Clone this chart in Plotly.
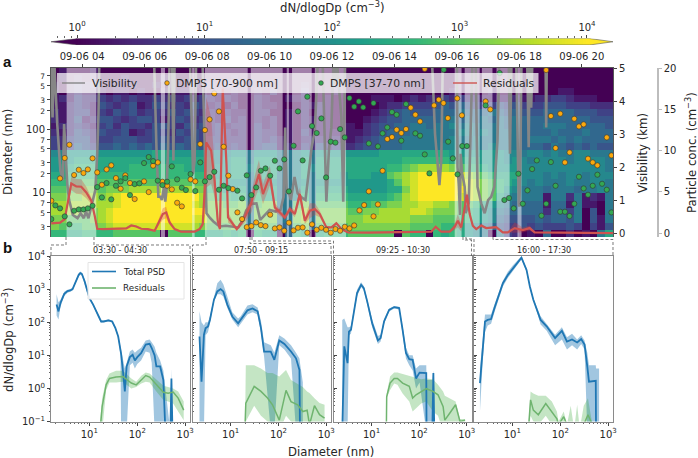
import numpy as np
import plotly.graph_objects as go

W, H = 698, 458

# diameter bin edges (nm) and one hex digit per 15 min cell, top row = largest size
size_edges = [929, 726, 568, 443, 346, 270, 210, 164, 128, 100, 78.1, 61.0, 47.5,
              36.6, 28.1, 21.6, 16.6, 12.8, 9.82, 7.55, 5.81, 4.46, 3.43, 2.64, 2.03]
psd_rows = [
    "010001 00000000000000 000000000000000000 0000000000 000000000000 000000000000",
    "010101 00010000100000 000100000000000000 0000000000 000000000000 000000000000",
    "101212 00101001010010 101000010000100000 0000000000 000000000000 000000000000",
    "101211 10110100101101 010100102000200010 0000000000 000100001000 000001100000",
    "121322 32323223232323 212100210011200100 0001110121 213232211112 112233211100",
    "112321 43234124323243 120200211000212100 0000122333 345454333434 333444333222",
    "212331 32434233243432 212110220010202100 0001234544 455565556545 444555544433",
    "212412 44323443134323 213120212010211100 0012344555 556656565656 555555555444",
    "122321 34243324432434 231220312010211101 1023445566 566767666656 555666555554",
    "212432 43341234324343 232120322010311111 1123455566 666677676666 555565556555",
    "323442 33444334433443 332220323110222121 1234555666 666766766666 566656565555",
    "323543 44545454545454 342320344120324232 2344555666 667776767666 555465454544",
    "778888 88888889988888 777886888667868888 8888999999 999888888877 677676677666",
    "888999 99999999999999 878996999667969999 9999999aaa aaa999988878 767777677776",
    "899aaa 9999aaaaaaa999 888997999667979999 99999aabcd dddcbaa98888 777777777776",
    "99aaaa aaaaaaaaaaaaaa 988996999667969998 99988bcdef ffffedcba999 777676776777",
    "aaaabb bbbbbbbbbbbbbb 998886888667868888 888889bdef ffffeedcba98 767666766776",
    "bbbbcc bcccddddddddcc a98896999667969999 8888899cef fffffedcba87 666566656676",
    "ccccdd cdeffffffffffd baa9a6a99667a6aaaa 99999abdef ffffeedcb976 666166261216",
    "dddddd ddefffffffffed ccbbc6bcc66bc6bbbb aaabbccdde eddcbba98765 555155161106",
    "ddddcc deffffffffffff ccccc6ccc66cd6cccc bbccddddee dcccba987655 555255360406",
    "ccbbbc deffffffffffee ccccc6ccc66cd6cccc ccddddddcc cbbbaa987544 445455460416",
    "cbaabb cdeeeeeeeeeedc bbbcb5bbb55bc5bbbb ccccccccbb bbaa98765433 434333430314",
    "aa99aa aabbbbbb0bbbaa 99a9a0a9905a909aaa bbbbbb0baa 0a9a98760632 010500201069",
]

# low visibility periods (hours of the day)
fog_start = [3.5, 6.52, 7.52, 7.93, 9.4, 10.55, 10.72, 11.45, 15.93, 16.25, 16.8, 17.27, 17.94]
fog_end = [4.45, 6.65, 7.6, 9.3, 10.42, 10.62, 11.35, 12.45, 16.15, 16.73, 17.14, 17.69, 18.07]

vis_time = [3.0, 3.05, 3.1, 3.2, 3.3, 3.38, 3.42, 3.48, 3.52, 3.58, 3.7, 3.85, 3.95, 4.05, 4.12, 4.2, 4.3,
            4.42, 4.48, 4.52, 4.55, 6.3, 6.38, 6.44, 6.5, 6.55, 6.62, 6.66, 6.7, 6.75, 6.8, 6.88, 6.92, 6.96,
            7.45, 7.55, 7.6, 7.65, 7.85, 7.92, 7.98, 8.1, 8.2, 8.4, 8.6, 9.0, 9.15, 9.25, 9.42, 9.58, 9.7, 9.8,
            10.0, 10.2, 10.35, 10.45, 10.5, 10.55, 10.62, 10.68, 10.8, 10.9, 11.0, 11.15, 11.25, 11.35, 11.45,
            11.55, 11.7, 11.75, 11.82, 11.9, 11.98, 12.05, 12.1, 12.15, 12.3, 12.36, 12.42, 15.2, 15.3, 15.4,
            15.44, 15.5, 15.55, 16.0, 16.02, 16.06, 16.1, 16.12, 16.17, 16.25, 16.28, 16.38, 16.5, 16.6, 16.66,
            16.78, 16.89, 17.0, 17.1, 17.2, 17.3, 17.36, 17.66, 17.7, 17.75, 17.9, 17.95, 17.98, 18.0, 18.03,
            18.07, 18.25, 18.3, 18.33, 18.38, 18.42, 18.84, 18.86, 18.88, 21]
vis_km = [5.3, 3.5, 5.3, 3.3, 1.9, 1.6, 3.3, 2.0, 1.5, 1.0, 0.55, 0.45, 0.6, 0.45, 0.65, 0.45, 0.8,
          1.3, 2.4, 3.6, 5.3, 5.3, 2.5, 1.1, 1.1, 1.0, 1.4, 0.95, 1.3, 2.5, 5.3, 5.3, 2.2, 5.3,
          5.3, 1.8, 2.2, 5.3, 5.3, 3, 0.6, 0.45, 0.35, 0.2, 0.22, 0.17, 0.4, 0.68, 0.88, 0.9, 0.4, 0.5,
          0.7, 0.65, 0.7, 1.1, 3.2, 1.2, 1.25, 1.0, 1.7, 1.2, 1.1, 1.0, 1.9, 2.6, 3.1,
          5.3, 5.2, 3, 0.95, 2.5, 3.2, 5.3, 4.5, 5.3, 3.5, 0.95, 5.3, 5.3, 3, 1.9,
          1.45, 2.2, 5.3, 5.3, 2, 1.5, 0.55, 2.4, 1.8, 1.4, 0.6, 0.9, 5.3, 5.3, 1.4,
          0.9, 0.6, 1, 1.1, 1.4, 2.8, 5.3, 5.3, 2.4, 5.3, 5.3, 1.9, 0.9, 0.8, 2,
          5.3, 5.3, 2.6, 5.3, 3.8, 5.3, 5.3, 3.2, 5.3, 5.3]

big_time = [3.01, 3.29, 3.44, 3.59, 3.74, 3.89, 4.04, 4.18, 4.33, 4.48, 4.63, 4.78, 4.93, 5.08, 5.23, 5.38, 5.53,
            5.68, 5.98, 6.13, 6.27, 6.42, 6.57, 6.72, 6.87, 7.04, 7.19, 7.47, 7.62, 7.78, 7.93, 8.08, 8.23, 8.38,
            8.53, 8.68, 8.82, 8.97, 9.12, 9.27, 9.42, 9.57, 9.72, 9.87, 10.02, 10.17, 10.32, 10.47, 10.62, 10.77,
            10.91, 11.06, 11.21, 11.36, 11.51, 11.66, 11.81, 11.96, 12.11, 12.26, 12.41, 12.56, 12.71, 12.88, 13.03,
            13.18, 13.33, 13.47, 13.62, 13.77, 13.92, 14.07, 14.22, 14.37, 14.52, 14.67, 14.82, 14.97, 15.27, 15.42,
            15.57, 15.71, 16.01, 16.16, 16.92, 17.07, 18.86, 19.01, 19.16, 19.31, 19.46, 19.61, 19.76, 19.91, 20.06,
            20.2, 20.35, 20.5, 20.8, 20.95]
big_conc = [3.91, 6.62, 9.09, 10.7, 7.03, 7.67, 7.27, 7.71, 9.05, 7.35, 5.85, 7.71, 8.2, 6.66, 5.37, 6.99, 6.06,
            4.12, 6.26, 4.96, 8.16, 8.56, 6.22, 5.73, 5.29, 3.67, 3.23, 6.5, 6.26, 10.78, 12.48, 13.77, 16.92, 14.74,
            10.46, 6.95, 5.33, 2.5, 1.69, 0.72, 0.84, 1.29, 0.96, 0.84, 2.22, 0.56, 0.68, 0.28, 1.25, 0.32,
            0.64, 0.68, 0.04, 1.05, 0.4, 0.64, 0.4, 0.04, 0.48, 0.28, 0.76, 0.56, 0.92, 2.74, 3.39,
            5.05, 2.02, 3.47, 7.55, 11.39, 11.63, 12.52, 12.12, 12.6, 15.19, 14.34, 13.53, 19.9, 15.47, 16.16,
            15.75, 13.93, 16.32, 14.26, 15.95, 14.98, 19.75, 14.18, 10.3, 14.46, 8.56, 9.77, 13.85, 12.92, 13.17,
            9.01, 8.56, 8.2, 11.59, 9.41]

small_time = [3.01, 3.14, 3.29, 3.44, 3.59, 3.74, 3.89, 4.04, 4.18, 4.33, 4.48, 4.63, 4.78, 4.93, 5.08, 5.23, 5.38,
              5.53, 5.68, 5.83, 5.98, 6.13, 6.27, 6.42, 6.57, 6.72, 6.87, 7.04, 7.19, 7.32, 7.47, 7.62, 7.78, 7.93,
              8.08, 8.23, 8.38, 8.53, 8.68, 8.97, 9.12, 9.27, 9.42, 9.57, 9.72, 9.87, 10.02, 10.17, 10.32, 10.47,
              10.62, 10.77, 10.91, 11.06, 11.21, 11.36, 11.51, 11.66, 11.81, 11.96, 12.11, 12.26, 12.41, 12.56,
              12.71, 12.86, 13.0, 13.18, 13.33, 13.47, 13.62, 13.77, 13.92, 14.07, 14.22, 14.37, 14.67, 14.82, 14.97,
              15.12, 15.58, 15.72, 15.87, 16.02, 16.17, 16.32, 16.92, 17.37, 17.52, 17.67, 17.82, 17.97, 18.11, 18.26,
              18.41, 18.56, 18.71, 18.86, 19.01, 19.16, 19.31, 19.46, 19.61, 19.76, 19.91, 20.06, 20.2, 20.35, 20.5,
              20.65, 20.8, 20.95]
small_conc = [1.69, 3.35, 2.99, 2.02, 1.05, 2.7, 2.86, 2.86, 2.99, 3.31, 5.57, 4.32, 6.06, 4.08, 5.73, 6.26, 6.66,
              4.6, 5.93, 6.02, 8.48, 9.21, 8.72, 6.34, 5.81, 6.22, 8.08, 6.5, 5.49, 5.21, 7.15, 5.09, 8.56, 6.26,
              6.78, 7.43, 5.25, 5.73, 5.45, 5.13, 4.2, 6.99, 4.6, 5.53, 7.55, 7.83, 6.95, 8.76, 7.83, 8.92,
              5.05, 10.58, 14.74, 8.8, 16.52, 12.96, 12.12, 13.89, 6.74, 11.07, 10.96, 12.6, 11.59, 16.36,
              15.31, 15.95, 15.23, 10.86, 15.75, 10.5, 12.08, 12.8, 14.66, 14.34, 11.19, 15.63, 12.08, 11.79, 9.53,
              7.23, 19.79, 11.07, 9.05, 7.11, 10.54, 10.54, 15.47, 19.39, 4.0, 4.24, 2.99, 7.19, 3.55, 5.17,
              7.75, 8.8, 2.1, 3.55, 8.6, 5.73, 2.58, 2.58, 2.06, 3.55, 6.82, 5.41, 4.64, 5.73, 7.07,
              5.97, 5.25, 2.5]

resid_time = [3.01, 3.14, 3.29, 3.44, 3.54, 3.65, 3.81, 3.97, 4.13, 4.29, 4.4, 4.48, 4.66, 4.93, 5.2, 5.41, 5.57, 5.73,
              5.89, 6.1, 6.32, 6.48, 6.58, 6.69, 6.8, 6.96, 7.17, 7.6, 7.76, 7.86, 7.92, 7.97, 8.13, 8.24, 8.34, 8.41,
              8.5, 8.62, 8.67, 8.95, 9.15, 9.31, 9.42, 9.53, 9.66, 9.79, 10.01, 10.17, 10.33, 10.49, 10.65, 10.81,
              10.97, 11.13, 11.29, 11.45, 11.61, 11.82, 11.98, 12.14, 12.3, 12.51, 13.15, 14.97, 15.18, 15.32, 15.5,
              15.77, 15.93, 16.03, 16.14, 16.25, 16.32, 16.41, 16.51, 16.62, 16.78, 16.94, 17.26, 17.47, 17.63, 17.85,
              18.11, 18.33, 18.49, 21]
resid_conc = [1.17, 1.17, 1.25, 1.69, 3.91, 6.01, 5.65, 5.61, 4.92, 3.91, 2.1, 0.52, 0.48, 0.52, 0.48, 0.56, 0.92, 0.8,
              0.52, 0.48, 0.28, 1.49, 2.3, 2.5, 1.29, 0.48, 0.16, 0.16, 0.48, 1.09, 5.13, 10.98, 9.98, 6.34, 1.49, 0.48,
              17.5, 8.36, 1.89, 0.48, 1.49, 2.7, 3.71, 5.53, 7.15, 4.72, 6.95, 3.11, 2.5, 1.89, 2.9, 2.3,
              4.72, 1.49, 2.7, 2.9, 2.3, 0.68, 0.68, 1.17, 0.48, 0.08, 0.04, 0.08, 0.16, 0.76, 0.16,
              0.16, 0.76, 1.49, 0.68, 3.11, 4.64, 2.3, 0.88, 0.48, 0.92, 0.6, 0.72, 0.08, 0.08, 0.6,
              0.36, 0.6, 0.08, 0.0]
resid_err = [0.1, 0.1, 0.1, 0.2, 0.5, 0.8, 0.9, 0.9, 0.7, 0.4, 0.3, 0.1, 0.1, 0.1, 0.1, 0.1, 0.1, 0.1,
             0.1, 0.1, 0.1, 0.4, 0.7, 0.7, 0.3, 0.1, 0.1, 0.1, 0.1, 0.3, 3.0, 5.5, 4.0, 2.0, 0.6, 0.2,
             1.5, 1.5, 0.6, 0.1, 0.5, 0.9, 1.2, 1.4, 1.7, 1.2, 1.2, 0.5, 0.4, 0.3, 0.4, 0.4,
             0.8, 0.4, 0.9, 0.7, 0.4, 0.2, 0.1, 0.2, 0.1, 0.05, 0.05, 0.05, 0.05, 0.1, 0.05,
             0.05, 0.4, 0.8, 0.5, 0.6, 0.5, 0.4, 0.2, 0.1, 0.2, 0.1, 0.1, 0.05, 0.05, 0.7,
             0.3, 0.3, 0.05, 0.05]

# one size distribution per period
period_labels = ["03:30 - 04:30", "07:50 - 09:15", "09:25 - 10:30", "16:00 - 17:30"]

p1_d = [2.07, 2.27, 2.5, 3, 3.5, 4, 4.47, 5, 6, 6.47, 7, 8, 10, 12, 15, 17.6, 20, 25, 30, 35, 40, 44.7, 46, 50, 55, 60,
        70, 80, 89, 100, 120, 150, 181, 200, 230, 250, 300, 350, 386, 490, 516, 542]
p1_total = [340, 212, 380, 720, 870, 910, 1000, 1500, 2700, 3050, 2850, 1700, 540, 340, 167, 105, 105, 113, 105, 66, 37,
            16.6, 11, 3.6, 0.81, 4.6, 8.8, 10.4, 7, 8.8, 11.6, 21, 22.3, 16.6, 10, 4.6, 4.6, 1.8, 0.05, 0.05, 2, 0.05]
p1_lo = [160, 120, 300, 620, 780, 830, 900, 1350, 2400, 2700, 2550, 1500, 480, 310, 150, 98, 98, 105, 98, 60, 33,
         10, 0.05, 0.05, 0.05, 0.05, 5, 6, 4, 5.5, 7, 13, 12, 6, 0.05, 0.05, 0.05, 0.05, 0.05, 0.05, 0.05, 0.05]
p1_hi = [700, 400, 480, 830, 960, 1000, 1100, 1650, 3000, 3400, 3150, 1900, 600, 370, 185, 112, 112, 122, 113, 72, 41,
         19, 16, 9, 4, 6, 13, 15, 12, 14, 17, 28, 30, 25, 18, 12, 7, 3.5, 0.8, 0.05, 4, 0.05]
p1_res_d = [16.7, 18.5, 22.4, 26.3, 36, 50, 75, 95, 121, 150, 181, 250, 350, 440, 560, 713, 893, 930]
p1_res = [0.05, 0.28, 1.28, 2, 2.2, 2.3, 1.45, 1.28, 1.8, 2.45, 2.2, 1.28, 0.76, 0.72, 0.78, 0.51, 0.234, 0.22]
p1_res_lo = [0.05, 0.05, 0.9, 1.5, 1.5, 1.6, 1, 1.1, 1.4, 1.6, 1.5, 0.8, 0.45, 0.4, 0.35, 0.2, 0.12, 0.11]
p1_res_hi = [0.1, 0.5, 1.8, 2.8, 3.4, 3.4, 2, 1.6, 2.4, 3, 2.8, 1.8, 1.2, 1.1, 1, 0.8, 0.45, 0.4]

p2_d = [2.22, 2.45, 2.75, 2.98, 3.34, 3.67, 4.46, 5.24, 6.15, 7, 8.5, 10.8, 14.3, 16.2, 22.4, 28.6, 36.6, 43, 50, 69,
        82, 104, 133, 183, 233, 275, 282, 324]
p2_total = [37, 1.6, 42, 66, 74, 117, 480, 850, 1000, 850, 340, 149, 93, 117, 228, 260, 214, 66, 13, 13,
            7.3, 28, 22, 13, 8.1, 3.6, 0.05, 0.05]
p2_lo = [0.05, 0.05, 0.05, 40, 50, 90, 420, 700, 700, 600, 270, 120, 70, 90, 170, 200, 170, 50, 9, 0.05,
         0.05, 20, 15, 8, 0.05, 0.05, 0.05, 0.05]
p2_hi = [214, 100, 80, 100, 100, 150, 560, 1500, 1900, 1400, 600, 200, 130, 150, 320, 350, 280, 110, 25, 20,
         12, 40, 32, 20, 12, 8, 6, 1.5]
p2_res_d = [20, 20.7, 31, 43, 59, 75, 104, 144, 183, 252, 324, 398, 447, 567, 724, 923]
p2_res = [0.08, 0.36, 1.15, 0.81, 0.51, 0.32, 0.11, 0.87, 0.4, 0.32, 0.2, 0.22, 0.08, 0.3, 0.16, 0.126]
p2_res_lo = [0.05, 0.1, 0.3, 0.15, 0.1, 0.07, 0.05, 0.15, 0.1, 0.05, 0.05, 0.05, 0.05, 0.05, 0.05, 0.05]
p2_res_hi = [0.1, 5, 5, 4, 2.9, 2.9, 2.3, 3.6, 1.8, 1.4, 1.1, 0.8, 0.72, 0.5, 0.36, 0.32]

p3_d = [2.42, 2.58, 2.67, 3.13, 3.35, 3.69, 4.2, 4.95, 6.03, 6.87, 8.09, 10.3, 13.6, 15.5, 18.3, 23.4, 29.9, 38, 44.9,
        52.8, 62, 73, 86, 102, 141, 143, 189, 199, 208]
p3_total = [0.05, 3.6, 18.7, 5.8, 52, 59, 211, 760, 1350, 1070, 425, 93, 28, 33, 105, 234, 286, 267, 59,
            11.7, 7.6, 7.3, 2, 3, 2.9, 0.05, 0.05, 2.9, 0.05]
p3_lo = [0.05, 0.05, 0.05, 0.05, 40, 45, 180, 600, 1150, 900, 350, 70, 22, 26, 90, 210, 260, 240, 45,
         8, 5, 3.5, 1, 1.5, 0.05, 0.05, 0.05, 0.05, 0.05]
p3_hi = [117, 125, 130, 70, 70, 75, 260, 950, 1600, 1250, 510, 120, 38, 42, 125, 260, 310, 295, 75,
         17, 10, 10, 4, 5, 5, 1.8, 1.8, 3.5, 1]
p3_res_d = [20.5, 20.8, 24.5, 29.9, 35, 44.9, 62, 73, 86, 110, 141, 195, 249, 319, 346, 442, 583, 721, 922]
p3_res = [0.08, 0.57, 1.45, 2, 2, 1.45, 1.15, 0.51, 0.64, 0.81, 0.98, 0.81, 0.64, 0.28, 0.11, 0.18, 0.32, 0.1, 0.11]
p3_res_lo = [0.05, 0.5, 0.9, 1.4, 1.3, 0.7, 0.4, 0.2, 0.25, 0.35, 0.4, 0.2, 0.15, 0.05, 0.05, 0.07, 0.1, 0.05, 0.08]
p3_res_hi = [0.1, 0.7, 2.3, 3, 3, 2.7, 2.3, 2.2, 2, 1.9, 2, 1.9, 1.3, 0.8, 0.6, 0.5, 0.4, 0.12, 0.12]

p4_d = [2.11, 2.4, 2.69, 3.06, 3.6, 4.24, 5.4, 6.35, 8.1, 10.3, 15.5, 19.8, 23.2, 27.4, 38.9, 52, 78, 108, 138, 176,
        225, 273, 321, 366, 397, 550, 557, 645]
p4_total = [1.45, 14.7, 105, 117, 124, 267, 760, 1510, 2700, 4300, 8900, 3800, 1200, 476, 117, 75, 33, 55, 26, 30,
            24.5, 31, 21, 4.6, 1.6, 1.7, 0.05, 0.05]
p4_lo = [0.2, 6, 50, 80, 90, 200, 620, 1200, 2200, 3500, 7800, 3300, 1050, 420, 85, 55, 20, 30, 15, 20,
         15, 22, 15, 0.05, 0.05, 0.05, 0.05, 0.05]
p4_hi = [4, 25, 170, 170, 170, 350, 900, 1800, 3400, 5300, 9800, 4300, 1350, 530, 150, 90, 42, 70, 35, 45,
         30, 40, 28, 12, 5, 5, 4, 4]
p4_res_d = [22, 24, 27.4, 34.8, 49.8, 66.7, 85, 92, 118, 138, 165, 195, 225, 255, 309, 378, 468]
p4_res = [0.08, 0.45, 0.22, 0.16, 0.35, 0.2, 0.12, 0.08, 0.14, 0.08, 0.06, 0.06, 0.06, 0.06, 0.08, 0.16, 0.08]
p4_res_lo = [0.05, 0.15, 0.1, 0.08, 0.15, 0.08, 0.05, 0.05, 0.05, 0.05, 0.05, 0.05, 0.05, 0.05, 0.05, 0.05, 0.05]
p4_res_hi = [0.1, 0.8, 0.7, 0.6, 0.6, 0.4, 0.2, 0.1, 0.2, 0.08, 0.3, 0.06, 0.32, 0.06, 0.3, 0.5, 0.08]

hour_ticks = [4, 6, 8, 10, 12, 14, 16, 18, 20]
hour_labels = ["09-06 04", "09-06 06", "09-06 08", "09-06 10", "09-06 12", "09-06 14", "09-06 16", "09-06 18", "09-06 20"]

FONT = "DejaVu Sans"
TEXT = "#262626"
BLUE = "#1f77b4"
GREEN = "#6fb46f"
RED = "#cf5350"
GREY = "#868686"
ORANGE = "#fba90d"
DOT_GREEN = "#33a852"


def px(x):
    return x / W


def py(y):
    return 1 - y / H


def small(text):
    return f"<span style='font-size:7.5px'>{text}</span>"


fig = go.Figure()

# a: size distribution map
z = [[int(c, 16) * 4 / 15 for c in row.replace(" ", "")] for row in psd_rows]
time_edges = np.arange(3, 21.01, 0.25)
fig.add_trace(go.Heatmap(x=time_edges, y=size_edges, z=z, colorscale="Viridis", zmin=0, zmax=4,
                         showscale=False, hoverinfo="skip"))

fog_x, fog_y = [], []
for a, b in zip(fog_start, fog_end):
    fog_x += [a, a, b, b, None]
    fog_y += [2.03, 929, 929, 2.03, None]
fig.add_trace(go.Scatter(x=fog_x, y=fog_y, mode="lines", fill="toself", fillcolor="rgba(255,255,255,0.5)",
                         line=dict(width=0), hoverinfo="skip"))

fig.add_trace(go.Scatter(x=vis_time, y=vis_km, yaxis="y2", mode="lines", name="Visibility",
                         line=dict(color=GREY, width=2.6)))

upper = [v + e for v, e in zip(resid_conc, resid_err)]
lower = [max(v - e, 0) for v, e in zip(resid_conc, resid_err)]
fig.add_trace(go.Scatter(x=resid_time + resid_time[::-1], y=upper + lower[::-1], yaxis="y3", mode="lines",
                         fill="toself", fillcolor="rgba(214,60,55,0.3)", line=dict(width=0), hoverinfo="skip"))
fig.add_trace(go.Scatter(x=resid_time, y=resid_conc, yaxis="y3", mode="lines", name="Residuals",
                         line=dict(color=RED, width=2.2)))
fig.add_trace(go.Scatter(x=big_time, y=big_conc, yaxis="y3", mode="markers", name="DMPS [70-900 nm]",
                         marker=dict(color=ORANGE, size=5.2, line=dict(color="#333333", width=0.6))))
fig.add_trace(go.Scatter(x=small_time, y=small_conc, yaxis="y3", mode="markers", name="DMPS [37-70 nm]",
                         marker=dict(color=DOT_GREEN, size=5.2, line=dict(color="#333333", width=0.6))))

# colour bar drawn on its own axes so that it can keep the pointed ends
bar_levels = np.linspace(0, 4.02, 200)
fig.add_trace(go.Heatmap(x=bar_levels, y=[0, 1], z=[bar_levels, bar_levels], colorscale="Viridis", zmin=0, zmax=4,
                         showscale=False, xaxis="x2", yaxis="y4", hoverinfo="skip"))
fig.add_trace(go.Scatter(x=[-0.204, 0, 0, -0.204], y=[0.5, 1, 0, 0.5], xaxis="x2", yaxis="y4", mode="lines",
                         fill="toself", fillcolor="#440154", line=dict(width=0), hoverinfo="skip"))
fig.add_trace(go.Scatter(x=[4.204, 4.02, 4.02, 4.204], y=[0.5, 1, 0, 0.5], xaxis="x2", yaxis="y4", mode="lines",
                         fill="toself", fillcolor="#fde725", line=dict(width=0), hoverinfo="skip"))
fig.add_trace(go.Scatter(x=[-0.204, 0, 4.02, 4.204, 4.02, 0, -0.204], y=[0.5, 1, 1, 0.5, 0, 0, 0.5],
                         xaxis="x2", yaxis="y4", mode="lines", line=dict(color="#555555", width=0.6),
                         hoverinfo="skip"))

# b: distributions for the four periods
panels = [
    (p1_d, p1_total, p1_lo, p1_hi, p1_res_d, p1_res, p1_res_lo, p1_res_hi),
    (p2_d, p2_total, p2_lo, p2_hi, p2_res_d, p2_res, p2_res_lo, p2_res_hi),
    (p3_d, p3_total, p3_lo, p3_hi, p3_res_d, p3_res, p3_res_lo, p3_res_hi),
    (p4_d, p4_total, p4_lo, p4_hi, p4_res_d, p4_res, p4_res_lo, p4_res_hi),
]
panel_left = [51, 192.5, 333.5, 474]
panel_right = [190, 331, 471.5, 613]

for i, (d, total, lo, hi, rd, res, rlo, rhi) in enumerate(panels):
    xa, ya = f"x{i + 3}", f"y{i + 5}"
    fig.add_trace(go.Scatter(x=d + d[::-1], y=hi + lo[::-1], xaxis=xa, yaxis=ya, mode="lines", fill="toself",
                             fillcolor="rgba(31,119,180,0.42)", line=dict(width=0), hoverinfo="skip"))
    fig.add_trace(go.Scatter(x=rd + rd[::-1], y=rhi + rlo[::-1], xaxis=xa, yaxis=ya, mode="lines", fill="toself",
                             fillcolor="rgba(44,160,44,0.28)", line=dict(width=0), hoverinfo="skip"))
    fig.add_trace(go.Scatter(x=d, y=total, xaxis=xa, yaxis=ya, mode="lines", name="Total PSD",
                             line=dict(color=BLUE, width=1.8)))
    fig.add_trace(go.Scatter(x=rd, y=res, xaxis=xa, yaxis=ya, mode="lines", name="Residuals",
                             line=dict(color=GREEN, width=1.5)))

fig.update_layout(
    template="none", showlegend=False,
    width=W, height=H, margin=dict(l=0, r=0, t=0, b=0, pad=0), autosize=False,
    paper_bgcolor="white", plot_bgcolor="white",
    font=dict(family=FONT, size=10, color=TEXT),
    xaxis=dict(domain=[px(51), px(613)], range=[3, 21], side="top", anchor="y", tickvals=hour_ticks,
               ticktext=hour_labels, ticks="outside", ticklen=3, tickcolor="#444", showgrid=False, zeroline=False,
               showline=True, linecolor="#555555", linewidth=1),
    yaxis=dict(domain=[py(237), py(68)], type="log", range=[0.307, 2.968], anchor="x", showgrid=False,
               tickvals=[3, 5, 7, 10, 20, 30, 50, 70, 100, 200, 300, 500, 700],
               ticktext=[small(3), small(5), small(7), "10", small(2), small(3), small(5), small(7), "100",
                         small(2), small(3), small(5), small(7)],
               ticks="outside", ticklen=3, tickcolor="#444", showline=True, linecolor="#555555", linewidth=1),
    yaxis2=dict(domain=[py(237), py(68)], range=[-0.12, 5], overlaying="y", side="right", anchor="x",
                tickvals=[0, 1, 2, 3, 4, 5], ticks="outside", ticklen=3, tickcolor="#444", showgrid=False,
                zeroline=False, showline=True, linecolor="#555555", linewidth=1),
    yaxis3=dict(domain=[py(237), py(68)], range=[-0.48, 20], overlaying="y", side="right", anchor="free",
                position=px(658), tickvals=[0, 5, 10, 15, 20], ticks="outside", ticklen=3, tickcolor="#bbbbbb",
                showgrid=False, zeroline=False, showline=True, linecolor="#bdbdbd", linewidth=1.5),
    xaxis2=dict(domain=[px(51), px(613)], range=[-0.204, 4.204], side="top", anchor="y4",
                tickvals=[0, 1, 2, 3, 4],
                ticktext=["10<sup>0</sup>", "10<sup>1</sup>", "10<sup>2</sup>", "10<sup>3</sup>", "10<sup>4</sup>"],
                ticks="outside", ticklen=3, tickcolor="#444", showgrid=False, zeroline=False,
                minor=dict(tickvals=[k + np.log10(m) for k in range(-1, 5) for m in range(2, 10)
                                     if -0.2 < k + np.log10(m) < 4.2],
                           ticks="outside", ticklen=1.5, tickcolor="#666")),
    yaxis4=dict(domain=[py(45), py(38.5)], range=[0, 1], anchor="x2", visible=False),
)

for i in range(4):
    fig.update_layout({
        f"xaxis{i + 3}": dict(domain=[px(panel_left[i]), px(panel_right[i])], type="log", range=[0.2, 3.1],
                              anchor=f"y{i + 5}", tickvals=[10, 100, 1000],
                              ticktext=["10<sup>1</sup>", "10<sup>2</sup>", "10<sup>3</sup>"],
                              ticks="outside", ticklen=3, tickcolor="#444", showgrid=False, zeroline=False, mirror=True,
                              showline=True, linecolor="#8a8a8a", linewidth=1,
                              minor=dict(ticks="outside", ticklen=1.5, dtick="D1", tickcolor="#666")),
        f"yaxis{i + 5}": dict(domain=[py(421.5), py(256)], type="log", range=[-1, 4], anchor=f"x{i + 3}",
                              tickvals=[0.1, 1, 10, 100, 1000, 10000],
                              ticktext=["10<sup>\u22121</sup>", "10<sup>0</sup>", "10<sup>1</sup>", "10<sup>2</sup>",
                                        "10<sup>3</sup>", "10<sup>4</sup>"],
                              showticklabels=i == 0,
                              ticks="outside" if i == 0 else "inside", ticklen=3, tickcolor="#444", showgrid=False,
                              zeroline=False, mirror=True, showline=True, linecolor="#8a8a8a", linewidth=1,
                              minor=dict(ticks="outside" if i == 0 else "inside", ticklen=1.5, dtick="D1",
                                         tickcolor="#666")),
    })

# dashed connectors from the shaded periods down to panels b
connectors = [
    [(66, 237), (66, 245), (51, 245), (51, 256)],
    [(94, 237), (94, 245), (190, 245), (190, 256)],
    [(206, 237), (206, 245), (192.5, 245), (192.5, 256)],
    [(250, 237), (250, 243.5), (331, 243.5), (331, 256)],
    [(252, 237), (252, 241), (333.5, 241), (333.5, 256)],
    [(463, 237), (463, 240), (471.5, 240), (471.5, 256)],
    [(466, 237), (466, 239), (474, 239), (474, 256)],
    [(493, 237), (493, 239.5), (613, 239.5), (613, 256)],
]
for pts in connectors:
    path = "M " + " L ".join(f"{px(x):.5f} {py(y):.5f}" for x, y in pts)
    fig.add_shape(type="path", path=path, xref="paper", yref="paper",
                  line=dict(color="#555555", width=0.8, dash="3px,2px"))


def label(text, x, y, size=11.7, angle=0, family=FONT, color=TEXT, anchor="center"):
    fig.add_annotation(text=text, x=px(x), y=py(y), xref="paper", yref="paper", showarrow=False, textangle=angle,
                       xanchor=anchor, yanchor="middle", font=dict(size=size, family=family, color=color))


def box(x0, y0, x1, y1, fill, border=None):
    fig.add_shape(type="rect", x0=px(x0), x1=px(x1), y0=py(y0), y1=py(y1), xref="paper", yref="paper",
                  fillcolor=fill, line=dict(color=border or fill, width=1 if border else 0))


def key_line(x0, x1, y, color, width):
    fig.add_shape(type="line", x0=px(x0), x1=px(x1), y0=py(y), y1=py(y), xref="paper", yref="paper",
                  line=dict(color=color, width=width))


def key_dot(x, y, color):
    fig.add_shape(type="circle", x0=px(x - 2.3), x1=px(x + 2.3), y0=py(y - 2.3), y1=py(y + 2.3), xref="paper",
                  yref="paper", fillcolor=color, line=dict(color="#333333", width=0.6))


# legends of both rows, placed where they sit in the figure
box(57, 73, 538.5, 93, "rgba(255,255,255,0.72)")
key_line(62, 85, 83, GREY, 1.4)
label("Visibility", 90, 83, size=10.8, anchor="left")
key_dot(167, 83, ORANGE)
label("DMPS [70-900 nm]", 174, 83, size=10.8, anchor="left")
key_dot(321, 83, DOT_GREEN)
label("DMPS [37-70 nm]", 328, 83, size=10.8, anchor="left")
key_line(453, 477, 83, RED, 1.4)
label("Residuals", 481, 83, size=10.8, anchor="left")

box(88, 262.5, 184, 299, "rgba(255,255,255,0.9)", "#e4e4e4")
key_line(92, 116, 271.5, BLUE, 1.6)
label("Total PSD", 121, 271.5, size=8.8, anchor="left")
key_line(92, 116, 288, GREEN, 1.6)
label("Residuals", 121, 288, size=8.8, anchor="left")

label("dN/dlogDp (cm<sup>\u22123</sup>)", 332, 7)
label("Diameter (nm)", 8, 152, angle=-90)
label("Visibility (km)", 643, 153, angle=-90)
label("Particle conc. (cm<sup>\u22123</sup>)", 691, 153, angle=-90)
label("dN/dlogDp (cm<sup>\u22123</sup>)", 8, 340, angle=-90)
label("Diameter (nm)", 331, 452)
label("<b>a</b>", 7, 62, size=15, family="Liberation Sans", color="#111111")
label("<b>b</b>", 7, 247, size=15, family="Liberation Sans", color="#111111")
for text, x in zip(period_labels, [120.5, 261, 402.7, 543.7]):
    label(text, x, 250.5, size=8)

fig.write_html("out.html", config={"displayModeBar": False}, post_script="document.body.style.margin='0';")
